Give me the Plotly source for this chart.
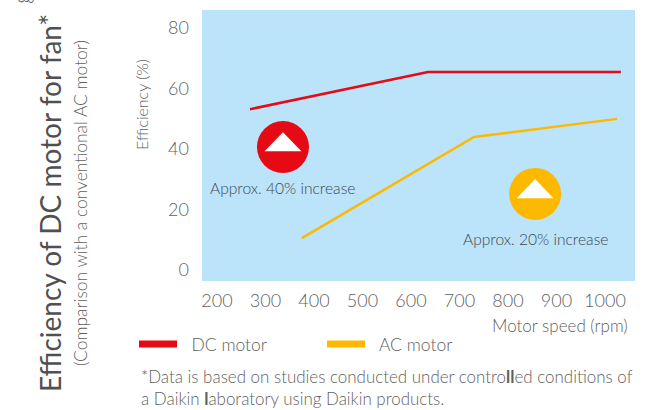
import plotly.graph_objects as go

dc_rpm = [268, 635, 1033]
dc_eff = [53.2, 65.5, 65.5]
ac_rpm = [375, 730, 1025]
ac_eff = [10.6, 44, 50]
x_ticks = [200, 300, 400, 500, 600, 700, 800, 900, 1000]
y_ticks = [0, 20, 40, 60, 80]
badge_rpm = [336, 856]
badge_eff = [40.7, 25.2]
badge_colors = ["#E50A14", "#FDB900"]
badge_labels = ["Approx. 40% increase", "Approx. 20% increase"]
label_eff = [27.2, 10.2]
legend_names = ["DC motor", "AC motor"]

FONT = "Lato"
WEIGHT = 300
GREY = "#5f5f5f"
DARK = "#3f474d"
L, T, W, H = 202, 10, 433, 271


def px(v):
    return (v - L) / W


def py(v):
    return 1 - (v - T) / H


fig = go.Figure()
fig.add_trace(go.Scatter(x=dc_rpm, y=dc_eff, mode="lines", showlegend=False,
                         line=dict(color="#E50A14", width=2.5)))
fig.add_trace(go.Scatter(x=ac_rpm, y=ac_eff, mode="lines", showlegend=False,
                         line=dict(color="#FDB900", width=2.5)))
for name, color in zip(legend_names, badge_colors):
    fig.add_trace(go.Scatter(x=[None], y=[None], mode="lines", name="\u00a0\u00a0" + name,
                             line=dict(color=color, width=7)))
fig.add_trace(go.Scatter(x=badge_rpm, y=badge_eff, mode="markers", showlegend=False,
                         marker=dict(size=52, color=badge_colors, line=dict(width=0))))

shapes = []
for rx, ry in zip(badge_rpm, badge_eff):
    shapes.append(dict(type="path", xref="x", yref="y", layer="above",
                       fillcolor="white", line=dict(width=0),
                       path=f"M {rx-38} {ry-1.4} L {rx} {ry+4.9} L {rx+38} {ry-1.4} Z"))

annotations = [
    dict(x=rx, y=ly, xref="x", yref="y", text=t, showarrow=False,
         font=dict(family=FONT, size=15.6, color=DARK, weight=WEIGHT))
    for rx, ly, t in zip(badge_rpm, label_eff, badge_labels)
]


def note(x, y, text, size, color=GREY, angle=0, xanchor="center", align="center", weight=WEIGHT):
    return dict(x=px(x), y=py(y), xref="paper", yref="paper", xanchor=xanchor, yanchor="middle",
                text=text, textangle=angle, showarrow=False, align=align,
                font=dict(family=FONT, size=size, color=color, weight=weight))


annotations += [
    note(20, -8, "ge", 24, "#666666", -90),
    note(50, 203, "Efficiency of DC motor for fan*", 28, "#505050", -90, weight=400),
    note(80, 203, "(Comparison with a conventional AC motor)", 17.4, GREY, -90),
    note(141, 105, "Efficiency (%)", 16, GREY, -90),
    note(630, 325, "Motor speed (rpm)", 17, GREY, xanchor="right"),
    note(139, 387.5, "*Data is based on studies conducted under contro<b>ll</b>ed conditions of<br>a Daikin <b>l</b>aboratory using Daikin products.",
         16.95, GREY, xanchor="left", align="left"),
]

tick_font = dict(family=FONT, size=18, color=GREY, weight=WEIGHT)
fig.update_layout(
    width=648, height=410, autosize=False,
    margin=dict(l=L, r=648 - L - W, t=T, b=410 - T - H),
    paper_bgcolor="white", plot_bgcolor="#BBE3FA",
    font=dict(family=FONT, color=GREY),
    shapes=shapes, annotations=annotations,
    legend=dict(orientation="h", x=px(134), y=py(326), xanchor="left", yanchor="top",
                itemwidth=38, entrywidth=135, entrywidthmode="pixels",
                font=dict(family=FONT, size=17.5, color=GREY, weight=WEIGHT),
                bgcolor="rgba(0,0,0,0)", itemclick=False, itemdoubleclick=False),
    xaxis=dict(range=[169, 1062], tickvals=x_ticks, showgrid=False, zeroline=False, showline=False,
               ticks="", ticklabelstandoff=7, tickfont=tick_font),
    yaxis=dict(range=[-3.6, 86], tickvals=y_ticks, showgrid=False, zeroline=False, showline=False,
               ticks="", ticklabelstandoff=12, tickfont=tick_font),
)
fig.write_html("out.html", config=dict(displayModeBar=False),
               post_script="document.body.style.margin='0';")
